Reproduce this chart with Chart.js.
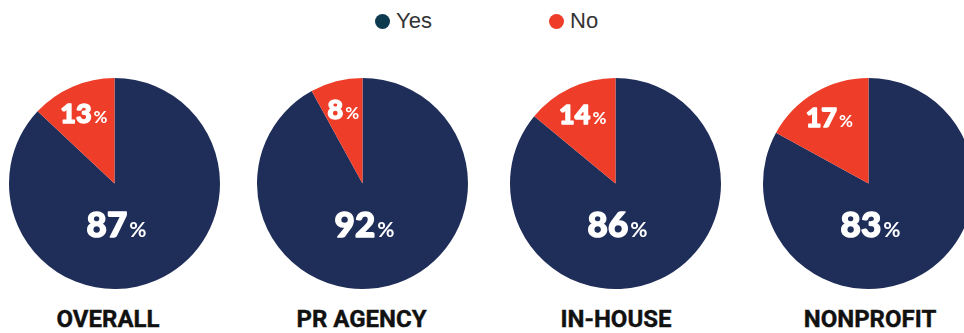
<!DOCTYPE html>
<html>
<head>
<meta charset="utf-8">
<script src="https://cdn.jsdelivr.net/npm/chart.js@4"></script>
<style>
  html, body { margin: 0; padding: 0; background: #fff; }
  body { width: 964px; height: 333px; position: relative; overflow: hidden; }
  .pie { position: absolute; top: 72px; width: 223px; height: 223px; }
  .cat {
    position: absolute; top: 305px; width: 220px; height: 30px; line-height: 30px;
    text-align: center; font: 700 24px Roboto, "Liberation Sans", sans-serif; color: #111;
    -webkit-text-stroke: 0.4px #111;
  }
  .legend { position: absolute; top: 8px; height: 30px; line-height: 30px;
    font: 22px "Liberation Sans Narrow", "Liberation Sans", sans-serif; color: #333; }
  .legend i { display: inline-block; width: 15px; height: 15px; border-radius: 50%;
    vertical-align: -1px; margin-right: 6px; }
</style>
</head>
<body>
<div class="legend" style="left:375px"><i style="background:#0d3a4f"></i>Yes</div>
<div class="legend" style="left:549px"><i style="background:#ee3e29"></i>No</div>

<script>
// --- Data ---
const categories = ['OVERALL', 'PR AGENCY', 'IN-HOUSE', 'NONPROFIT'];
const seriesNames = ['Yes', 'No'];
const yesValues = [87, 92, 86, 83];
const noValues = [13, 8, 14, 17];

const colors = { Yes: '#1f2d59', No: '#ee3e29' };
const centersX = [114.5, 362.5, 615.5, 868];
const labelX = [108, 361.5, 616, 870];
const SIZE = 223;

// draws "87%" style labels with a smaller percent sign
const pctLabels = {
    id: 'pctLabels',
    afterDatasetsDraw(chart) {
        const ctx = chart.ctx;
        const meta = chart.getDatasetMeta(0);
        const values = chart.data.datasets[0].data;
        meta.data.forEach((arc, i) => {
            const r = arc.outerRadius;
            let x, y, big, small;
            if (i === 0) {
                x = arc.x + 2;
                y = arc.y + r * 0.39;
                big = 35; small = 21;
            } else {
                const mid = (arc.startAngle + arc.endAngle) / 2;
                x = arc.x + Math.cos(mid) * r * 0.73;
                y = arc.y + Math.sin(mid) * r * 0.73;
                big = 27; small = 17;
            }
            const num = String(values[i]);
            const bigFont = `900 ${big}px Lato, "Open Sans", sans-serif`;
            const smallFont = `700 ${small}px Lato, "Open Sans", sans-serif`;
            ctx.save();
            ctx.fillStyle = '#fff';
            ctx.strokeStyle = '#fff';
            ctx.lineJoin = 'round';
            ctx.textBaseline = 'alphabetic';
            ctx.textAlign = 'left';
            ctx.font = bigFont;
            const wNum = ctx.measureText(num).width;
            ctx.font = smallFont;
            const wPct = ctx.measureText('%').width;
            const left = x - (wNum + wPct + 2) / 2;
            const base = y + big * 0.36;
            ctx.font = bigFont;
            ctx.lineWidth = 1.4;
            ctx.strokeText(num, left, base);
            ctx.fillText(num, left, base);
            ctx.font = smallFont;
            ctx.fillText('%', left + wNum + 2, base);
            ctx.restore();
        });
    }
};

categories.forEach((cat, i) => {
    const box = document.createElement('div');
    box.className = 'pie';
    box.style.left = (centersX[i] - SIZE / 2) + 'px';
    const canvas = document.createElement('canvas');
    canvas.width = SIZE; canvas.height = SIZE;
    box.appendChild(canvas);
    document.body.appendChild(box);

    const label = document.createElement('div');
    label.className = 'cat';
    label.style.left = (labelX[i] - 110) + 'px';
    label.textContent = cat;
    document.body.appendChild(label);

    new Chart(canvas, {
        type: 'pie',
        data: {
            labels: seriesNames,
            datasets: [{
                data: [yesValues[i], noValues[i]],
                backgroundColor: seriesNames.map(n => colors[n]),
                borderWidth: 0,
                hoverOffset: 0
            }]
        },
        options: {
            responsive: false,
            animation: false,
            layout: { padding: 6 },
            plugins: { legend: { display: false }, tooltip: { enabled: false } }
        },
        plugins: [pctLabels]
    });
});
</script>
</body>
</html>
